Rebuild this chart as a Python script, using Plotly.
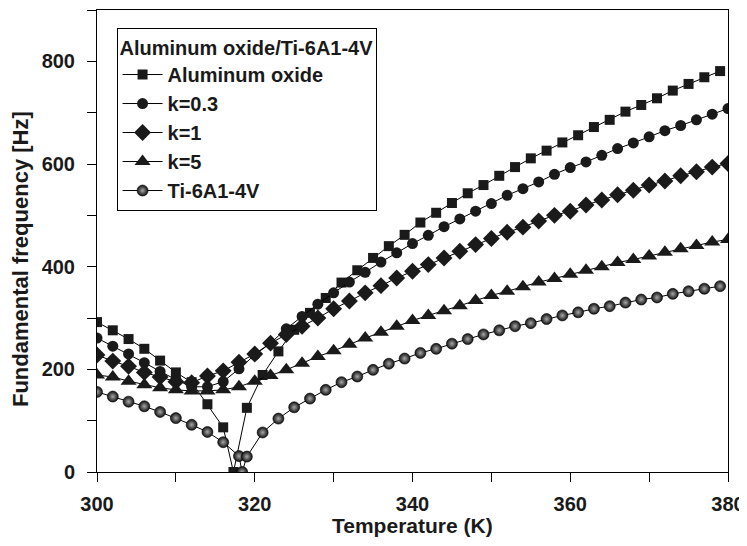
import plotly.graph_objects as go

# ---------------- data ----------------
T_even = [300, 302, 304, 306, 308, 310, 312, 314, 316, 318, 320, 322, 324, 326,
          328, 330, 332, 334, 336, 338, 340, 342, 344, 346, 348, 350, 352, 354,
          356, 358, 360, 362, 364, 366, 368, 370, 372, 374, 376, 378, 380]
T_odd_after = [319, 321, 323, 325, 327, 329, 331, 333, 335, 337, 339, 341, 343,
               345, 347, 349, 351, 353, 355, 357, 359, 361, 363, 365, 367, 369,
               371, 373, 375, 377, 379]

al_T = [300, 302, 304, 306, 308, 310, 312, 314, 316, 317.3] + T_odd_after
al_f = [292, 276, 259, 240, 217, 194, 175, 132, 87, 0,
        125, 189, 235, 277, 310, 339, 369, 393, 417, 440, 462, 486, 505, 524,
        543, 559, 577, 594, 611, 626, 642, 656, 672, 686, 702, 715, 728, 743,
        756, 769, 781]

k03_f = [261, 245, 230, 213, 196, 180, 166, 166, 176, 201,
         228, 251, 279, 303, 327, 349, 370, 389, 409, 427, 445, 461, 478, 493, 508,
         523, 539, 552, 565, 580, 593, 604, 617, 630, 641, 653, 665, 675, 686, 697, 708]

k1_f = [228, 216, 206, 194, 185, 176, 174, 187, 197, 214,
        230, 251, 268, 284, 300, 318, 333, 349, 363, 378, 391, 404, 417, 430, 443,
        455, 467, 477, 489, 500, 508, 520, 530, 540, 549, 559, 567, 577, 585, 594, 601]

k5_f = [189, 185, 177, 170, 164, 160, 158, 158, 160, 166,
        177, 188, 199, 212, 225, 236, 249, 261, 272, 284, 295, 305, 314, 324, 334,
        344, 352, 361, 370, 377, 385, 393, 400, 408, 414, 421, 428, 435, 441, 448, 453]

ti_T = [300, 302, 304, 306, 308, 310, 312, 314, 316, 318, 318.4] + T_odd_after
ti_f = [156, 147, 137, 128, 117, 105, 92, 78, 58, 31, 0,
        30, 77, 104, 126, 143, 160, 175, 186, 199, 211, 221, 232, 240, 250, 259,
        268, 276, 284, 290, 298, 305, 311, 318, 323, 330, 336, 340, 347, 352, 357, 362]

series_names = ["Aluminum oxide", "k=0.3", "k=1", "k=5", "Ti-6A1-4V"]
legend_title = "Aluminum oxide/Ti-6A1-4V"
x_title = "Temperature (K)"
y_title = "Fundamental frequency [Hz]"

x_tickvals = [300, 320, 340, 360, 380]
y_tickvals = [0, 200, 400, 600, 800]

# ---------------- figure ----------------
FONT = "Liberation Sans, Arial, Helvetica, sans-serif"
INK = "#1a1a1a"

fig = go.Figure()

line_style = dict(color="black", width=1)

fig.add_trace(go.Scatter(
    x=al_T, y=al_f, name=series_names[0], mode="lines+markers",
    line=line_style,
    marker=dict(symbol="square", size=10, color=INK, line=dict(width=0))))

fig.add_trace(go.Scatter(
    x=T_even, y=k03_f, name=series_names[1], mode="lines+markers",
    line=line_style,
    marker=dict(symbol="circle", size=11, color=INK, line=dict(width=0))))

fig.add_trace(go.Scatter(
    x=T_even, y=k1_f, name=series_names[2], mode="lines+markers",
    line=line_style,
    marker=dict(symbol="diamond", size=13, color=INK, line=dict(width=0))))

fig.add_trace(go.Scatter(
    x=T_even, y=k5_f, name=series_names[3], mode="lines+markers",
    line=line_style,
    marker=dict(symbol="triangle-up", size=14, color=INK, line=dict(width=0))))

fig.add_trace(go.Scatter(
    x=ti_T, y=ti_f, name=series_names[4], mode="lines+markers",
    line=line_style,
    marker=dict(symbol="circle", size=11, color="#101010",
                gradient=dict(type="radial", color="#a8a8a8"),
                line=dict(width=0.6, color="black"))))

axis_common = dict(
    showline=True, linecolor="black", linewidth=1, mirror=True,
    ticks="outside", ticklen=9, tickwidth=1, tickcolor="black",
    showgrid=False, zeroline=False, automargin=False,
    tickfont=dict(family=FONT, size=20, color=INK, weight="bold"),
)

# The page body adds an 8px offset, so the figure is 8px smaller than the window.
fig.update_layout(
    width=739, height=538, autosize=False,
    margin=dict(l=89, r=19, t=2, b=74),
    paper_bgcolor="white", plot_bgcolor="white",
    font=dict(family=FONT, color=INK),
    xaxis=dict(
        range=[300, 380], tickvals=x_tickvals, ticklabelstandoff=5,
        minor=dict(dtick=10, tick0=300, ticks="outside", ticklen=9,
                   tickcolor="black", tickwidth=1, showgrid=False),
        **axis_common),
    yaxis=dict(
        range=[0, 900], tickvals=y_tickvals, ticklabelstandoff=8,
        minor=dict(dtick=100, tick0=0, ticks="outside", ticklen=9,
                   tickcolor="black", tickwidth=1, showgrid=False),
        **axis_common),
    legend=dict(
        x=0.031, y=0.961, xanchor="left", yanchor="top",
        bordercolor="black", borderwidth=1, bgcolor="white",
        title=dict(text=legend_title,
                   font=dict(family=FONT, size=20, color=INK, weight="bold")),
        font=dict(family=FONT, size=20, color=INK, weight="bold"),
        tracegroupgap=0, itemwidth=40,
    ),
    annotations=[
        dict(text=x_title, xref="paper", yref="paper", x=0.5, y=-0.115,
             xanchor="center", yanchor="middle", showarrow=False,
             font=dict(family=FONT, size=21, color=INK, weight="bold")),
        dict(text=y_title, xref="paper", yref="paper", x=-0.122, y=0.461,
             xanchor="center", yanchor="middle", showarrow=False, textangle=-90,
             font=dict(family=FONT, size=22, color=INK, weight="bold")),
    ],
    showlegend=True,
)

fig.write_html("out.html")
